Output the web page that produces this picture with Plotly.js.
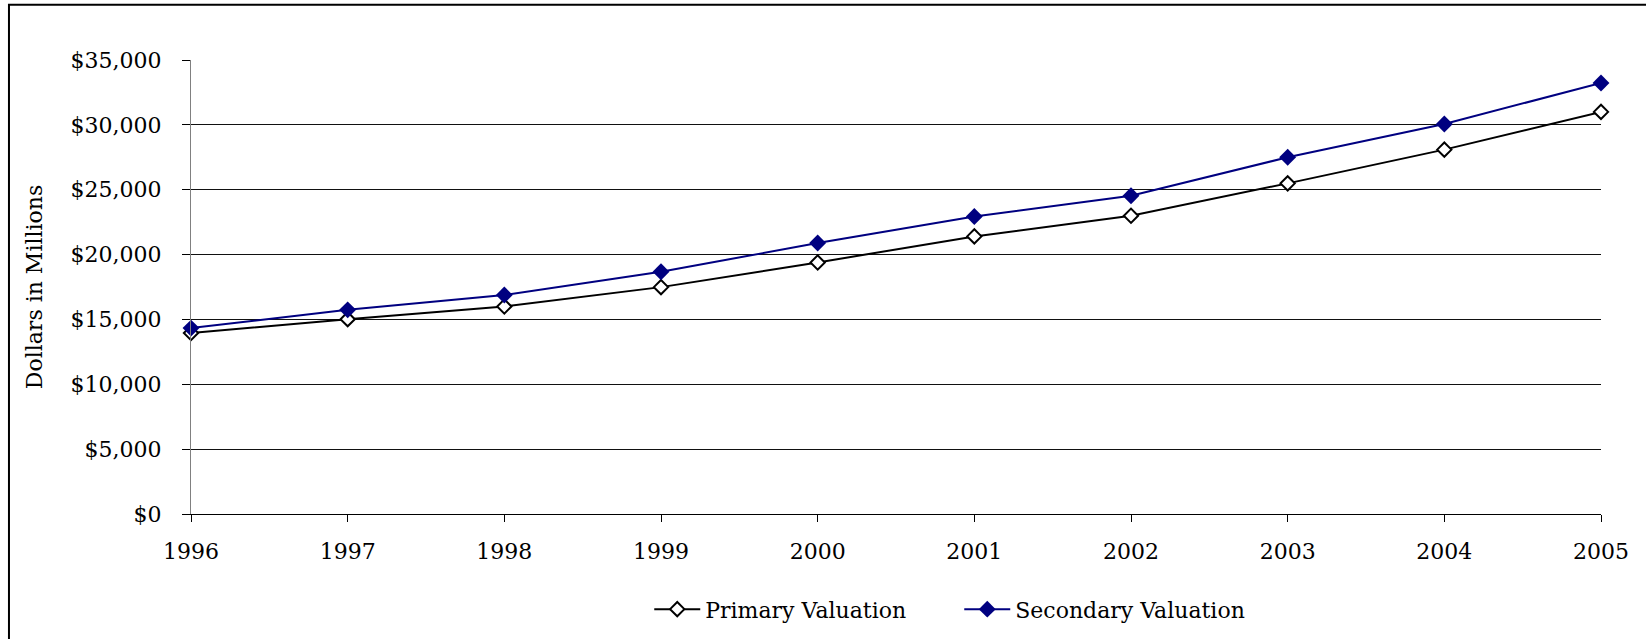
<!DOCTYPE html>
<html>
<head>
<meta charset="utf-8">
<script src="https://cdn.plot.ly/plotly-3.0.1.min.js"></script>
<style>
  html, body { margin: 0; padding: 0; background: #fff; }
  #chart { width: 1646px; height: 639px; }
</style>
</head>
<body>
<div id="chart"></div>
<script>
const years = [1996, 1997, 1998, 1999, 2000, 2001, 2002, 2003, 2004, 2005];
const primaryValuation = [13950, 15020, 16000, 17490, 19390, 21400, 22990, 25490, 28090, 31000];
const secondaryValuation = [14330, 15740, 16880, 18670, 20890, 22940, 24540, 27500, 30070, 33230];
const yTickValues = [0, 5000, 10000, 15000, 20000, 25000, 30000, 35000];
const yTickLabels = ['$0', '$5,000', '$10,000', '$15,000', '$20,000', '$25,000', '$30,000', '$35,000'];
const seriesNames = ['Primary Valuation', 'Secondary Valuation'];
const yAxisTitle = 'Dollars in Millions';

const fontFamily = '"DejaVu Serif", serif';

const traces = [
  {
    x: years, y: primaryValuation, name: seriesNames[0],
    type: 'scatter', mode: 'lines+markers', cliponaxis: false,
    line: { color: '#000000', width: 2 },
    marker: { symbol: 'diamond', size: 11, color: '#ffffff', line: { color: '#000000', width: 2 } }
  },
  {
    x: years, y: secondaryValuation, name: seriesNames[1],
    type: 'scatter', mode: 'lines+markers', cliponaxis: false,
    line: { color: '#000080', width: 2 },
    marker: { symbol: 'diamond', size: 13, color: '#000080', line: { color: '#000080', width: 0 } }
  }
];

const layout = {
  width: 1646, height: 639,
  paper_bgcolor: '#ffffff', plot_bgcolor: '#ffffff',
  margin: { l: 191, r: 45, t: 60, b: 125, autoexpand: false },
  font: { family: fontFamily, size: 22, color: '#000000' },
  showlegend: true,
  legend: {
    orientation: 'h', x: 0.325, xanchor: 'left', y: -0.21, yanchor: 'middle',
    font: { family: fontFamily, size: 22, color: '#000000' },
    bgcolor: 'rgba(0,0,0,0)', itemwidth: 46, tracegroupgap: 0,
    entrywidth: 249, entrywidthmode: 'pixels'
  },
  xaxis: {
    range: [1996, 2005], tickmode: 'array', tickvals: years, ticktext: years.map(String),
    showgrid: false, zeroline: false,
    showline: true, linecolor: '#000000', linewidth: 1,
    ticks: 'outside', ticklen: 7, tickcolor: '#000000', tickwidth: 1,
    ticklabelstandoff: 11,
    tickfont: { family: fontFamily, size: 22, color: '#000000' },
    fixedrange: true
  },
  yaxis: {
    range: [0, 35000], tickmode: 'array', tickvals: yTickValues, ticktext: yTickLabels,
    showgrid: true, gridcolor: '#111111', gridwidth: 1, zeroline: false,
    showline: true, linecolor: '#808080', linewidth: 1,
    ticks: 'outside', ticklen: 8, tickcolor: '#000000', tickwidth: 1,
    ticklabelstandoff: 16,
    tickfont: { family: fontFamily, size: 22, color: '#000000' },
    title: { text: yAxisTitle, font: { family: fontFamily, size: 22, color: '#000000' }, standoff: 21 },
    automargin: false,
    fixedrange: true
  },
  shapes: [
    {
      type: 'rect', xref: 'paper', yref: 'paper',
      x0: -0.1291, x1: 1.08, y0: -0.45, y1: 1.1219,
      line: { color: '#000000', width: 2 }, fillcolor: 'rgba(0,0,0,0)', layer: 'above'
    }
  ]
};

Plotly.newPlot('chart', traces, layout, { staticPlot: true, displayModeBar: false });
</script>
</body>
</html>
